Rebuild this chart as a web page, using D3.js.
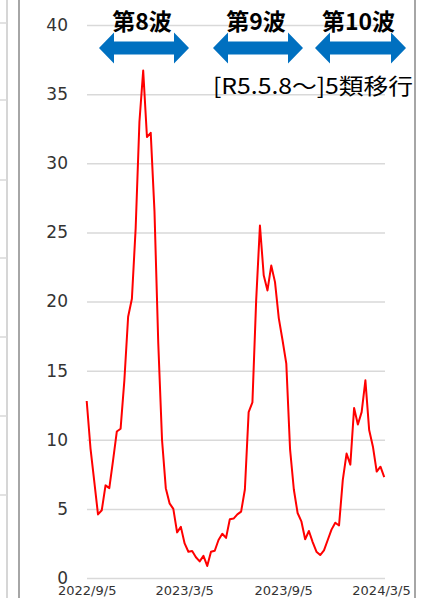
<!DOCTYPE html>
<html>
<head>
<meta charset="utf-8">
<script src="https://cdn.jsdelivr.net/npm/d3@7"></script>
<style>
  body { margin: 0; background: #fff; }
  svg { display: block; }
</style>
</head>
<body>
<div id="chart"></div>
<script>
// Weekly values, first week 2022/9/5
const startDate = "2022-09-05";
const values = [
  12.8, 9.4, 7.0, 4.6, 4.9, 6.7, 6.5, 8.5, 10.6, 10.8,
  14.3, 18.9, 20.2, 25.3, 33.0, 36.7, 31.9, 32.2, 26.5, 17.0,
  10.0, 6.5, 5.4, 5.0, 3.3, 3.7, 2.5, 1.9, 1.95, 1.5,
  1.2, 1.6, 0.87, 1.9, 1.97, 2.75, 3.2, 2.9, 4.25, 4.3,
  4.6, 4.8, 6.4, 12.0, 12.7, 20.1, 25.5, 21.9, 20.8, 22.6,
  21.4, 18.8, 17.2, 15.5, 9.3, 6.4, 4.7, 4.1, 2.8, 3.4,
  2.6, 1.9, 1.66, 2.0, 2.75, 3.5, 4.0, 3.8, 7.1, 9.0,
  8.2, 12.3, 11.1, 12.0, 14.3, 10.7, 9.5, 7.7, 8.05, 7.3
];
const xTickLabels = ["2022-09-05", "2023-03-05", "2023-09-05", "2024-03-05"];
const yTicks = [0, 5, 10, 15, 20, 25, 30, 35, 40];
const waveLabels = ["第8波", "第9波", "第10波"];
const noteText = "[R5.5.8～]5類移行";

const W = 423, H = 598;
const parseDate = d3.timeParse("%Y-%m-%d");
const fmt = d3.timeFormat("%Y/%-m/%-d");

const data = values.map((v, i) => ({
  date: d3.timeWeek.offset(parseDate(startDate), i),
  value: v
}));

const xScale = d3.scaleTime()
  .domain([parseDate(xTickLabels[0]), parseDate(xTickLabels[3])])
  .range([86.7, 381]);
const yScale = d3.scaleLinear().domain([0, 40]).range([578, 25]);

const svg = d3.select("#chart").append("svg")
  .attr("width", W)
  .attr("height", H);

// frame lines (this panel and the edge of the neighbour panel)
svg.append("line").attr("x1", 7).attr("x2", 7).attr("y1", 0).attr("y2", H)
  .attr("stroke", "#c8c8c8").attr("stroke-width", 1.5);
svg.selectAll(".stub")
  .data([23, 100, 180, 258, 337, 416, 495])
  .enter().append("line")
  .attr("x1", 0).attr("x2", 7).attr("y1", d => d).attr("y2", d => d)
  .attr("stroke", "#d9d9d9").attr("stroke-width", 1.5);
svg.append("line").attr("x1", 19).attr("x2", 19).attr("y1", 0).attr("y2", H)
  .attr("stroke", "#a6a6a6").attr("stroke-width", 2);
svg.append("line").attr("x1", 415).attr("x2", 415).attr("y1", 0).attr("y2", H)
  .attr("stroke", "#a6a6a6").attr("stroke-width", 2);

// horizontal gridlines
const grid = svg.append("g")
  .attr("transform", "translate(87,0)")
  .call(d3.axisLeft(yScale).tickValues(yTicks).tickSize(-298).tickFormat(""));
grid.select(".domain").remove();
grid.selectAll("line").attr("stroke", "#d9d9d9").attr("stroke-width", 1.5);

// y labels
const yAxis = svg.append("g")
  .attr("transform", "translate(68,0)")
  .call(d3.axisLeft(yScale).tickValues(yTicks).tickSize(0).tickPadding(0));
yAxis.select(".domain").remove();
yAxis.selectAll("text")
  .attr("font-family", "DejaVu Sans, sans-serif")
  .attr("font-size", 17)
  .attr("fill", "#333");

// x labels
const xAxis = svg.append("g")
  .attr("transform", "translate(0,578)")
  .call(d3.axisBottom(xScale)
    .tickValues(xTickLabels.map(parseDate))
    .tickSize(0).tickPadding(8)
    .tickFormat(fmt));
xAxis.select(".domain").remove();
xAxis.selectAll("text")
  .attr("font-family", "DejaVu Sans, sans-serif")
  .attr("font-size", 13)
  .attr("fill", "#333");

// the line
const line = d3.line()
  .x(d => xScale(d.date))
  .y(d => yScale(d.value));

svg.append("path")
  .datum(data)
  .attr("fill", "none")
  .attr("stroke", "#ff0000")
  .attr("stroke-width", 2)
  .attr("stroke-linejoin", "round")
  .attr("d", line);

// wave arrows and labels
const arrowSpans = [[99, 189], [213, 303], [315, 406]];
const arrowY = 48, headLen = 15, headH = 15.5, shaftH = 6.5;

function arrowPath(x0, x1) {
  return [
    [x0, arrowY],
    [x0 + headLen, arrowY - headH],
    [x0 + headLen, arrowY - shaftH],
    [x1 - headLen, arrowY - shaftH],
    [x1 - headLen, arrowY - headH],
    [x1, arrowY],
    [x1 - headLen, arrowY + headH],
    [x1 - headLen, arrowY + shaftH],
    [x0 + headLen, arrowY + shaftH],
    [x0 + headLen, arrowY + headH]
  ];
}

svg.selectAll(".arrow")
  .data(arrowSpans)
  .enter().append("polygon")
  .attr("class", "arrow")
  .attr("points", d => arrowPath(d[0], d[1]).join(" "))
  .attr("fill", "#0070c0");

svg.selectAll(".wave")
  .data(waveLabels)
  .enter().append("text")
  .attr("class", "wave")
  .attr("x", (d, i) => (arrowSpans[i][0] + arrowSpans[i][1]) / 2 - 2)
  .attr("y", 30)
  .attr("text-anchor", "middle")
  .attr("font-family", "Noto Sans CJK JP, sans-serif")
  .attr("font-weight", "bold")
  .attr("font-size", 23)
  .attr("fill", "#000")
  .text(d => d);

svg.append("text")
  .attr("x", 213)
  .attr("y", 94)
  .attr("font-family", "Noto Sans CJK JP, sans-serif")
  .attr("font-size", 22)
  .attr("fill", "#000")
  .attr("textLength", 200)
  .attr("lengthAdjust", "spacingAndGlyphs")
  .text(noteText);
</script>
</body>
</html>
